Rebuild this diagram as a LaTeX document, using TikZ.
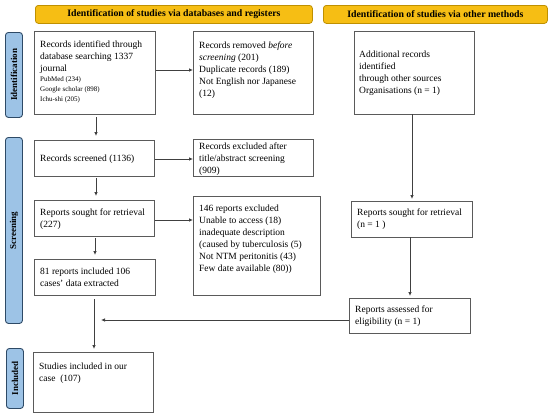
\documentclass[tikz,border=0pt]{standalone}
\usepackage{fontspec}
\setmainfont{Liberation Serif}
\usetikzlibrary{arrows.meta}
\definecolor{gold}{HTML}{F6BE14}
\definecolor{goldedge}{HTML}{BF9000}
\definecolor{sideblue}{HTML}{9DC3E6}
\definecolor{sideedge}{HTML}{2E4A66}
\definecolor{boxedge}{HTML}{5A5A5A}
\definecolor{arr}{HTML}{404040}
\tikzset{
  box/.style={draw=boxedge, line width=1pt, rectangle, inner sep=0pt, anchor=north west},
  hdr/.style={draw=goldedge, fill=gold, line width=0.8pt, rounded corners=3pt, inner sep=0pt, anchor=north west, font=\fontsize{9.8}{11}\selectfont\bfseries},
  side/.style={draw=sideedge, fill=sideblue, line width=0.9pt, rounded corners=3pt, inner sep=0pt, anchor=north west},
  sidetxt/.style={rotate=90, font=\fontsize{9}{10}\selectfont\bfseries},
  txt/.style={anchor=north west, inner sep=0pt, align=left, font=\fontsize{9.5}{12}\selectfont},
  conn/.style={draw=arr, line width=0.8pt, -{Latex[length=4pt,width=3.6pt]}},
}
\begin{document}
\begin{tikzpicture}[x=1pt,y=-1pt]
\useasboundingbox (0,0) rectangle (550,418);
% headers
\node[hdr, minimum width=277pt, minimum height=18pt] (h1) at (35,5) {Identification of studies via databases and registers};
\node[hdr, minimum width=224pt, minimum height=18pt] (h2) at (323,5) {Identification of studies via other methods};
% side bars
\node[side, minimum width=17pt, minimum height=85pt] (s1) at (5,32) {};
\node[sidetxt] at (s1.center) {Identification};
\node[side, minimum width=17pt, minimum height=186pt] (s2) at (5,137) {};
\node[sidetxt] at (s2.center) {Screening};
\node[side, minimum width=17pt, minimum height=60pt] (s3) at (6,348) {};
\node[sidetxt] at (s3.center) {Included};
% boxes
\node[box, minimum width=121pt, minimum height=83pt] (b1) at (34,31) {};
\node[txt] (t1) at (40,40.5) {Records identified through\\database searching 1337\\journal\\[-2pt]{\fontsize{7}{9.5}\selectfont PubMed (234)}\\[-2pt]{\fontsize{7}{9.5}\selectfont Google scholar (898)}\\[-2pt]{\fontsize{7}{9.5}\selectfont Ichu-shi (205)}};
\node[box, minimum width=120pt, minimum height=83pt] (b2) at (193,31) {};
\node[txt] (t2) at (199,42) {Records removed \textit{before}\\\textit{screening} (201)\\Duplicate records (189)\\Not English nor Japanese\\(12)};
\node[box, minimum width=120pt, minimum height=83pt] (b3) at (354,31) {};
\node[txt] (t3) at (359,50.5) {Additional records\\identified\\through other sources\\Organisations (n = 1)};
\node[box, minimum width=120pt, minimum height=36pt] (b4) at (34,140) {};
\node[txt] (t4) at (40,154.5) {Records screened (1136)};
\node[box, minimum width=120pt, minimum height=37pt] (b5) at (193,139) {};
\node[txt] (t5) at (199,142.5) {Records excluded after\\title/abstract screening\\(909)};
\node[box, minimum width=120pt, minimum height=36pt] (b6) at (34,200) {};
\node[txt] (t6) at (40,208.5) {Reports sought for retrieval\\(227)};
\node[box, minimum width=127pt, minimum height=99pt] (b7) at (193,196) {};
\node[txt] (t7) at (199,204.5) {146 reports excluded\\Unable to access (18)\\inadequate description\\(caused by tuberculosis (5)\\Not NTM peritonitis (43)\\Few date available (80))};
\node[box, minimum width=121pt, minimum height=36pt] (b8) at (34,259) {};
\node[txt] (t8) at (40,267.5) {81 reports included 106\\cases' data extracted};
\node[box, minimum width=121pt, minimum height=36pt] (b9) at (351,201) {};
\node[txt] (t9) at (357,208.5) {Reports sought for retrieval\\(n = 1 )};
\node[box, minimum width=121pt, minimum height=35pt] (b10) at (349,298) {};
\node[txt] (t10) at (355,305.5) {Reports assessed for\\eligibility (n = 1)};
\node[box, minimum width=120pt, minimum height=60pt] (b11) at (33,352) {};
\node[txt] (t11) at (39,362.5) {Studies included in our\\case~ (107)};
% connectors
\draw[conn] (b1.east |- 0,70) -- (b2.west |- 0,70);
\draw[conn] (96,117) -- (96,136);
\draw[conn] (b4.east |- 0,159) -- (b5.west |- 0,159);
\draw[conn] (96,178) -- (96,196);
\draw[conn] (b6.east |- 0,220) -- (b7.west |- 0,220);
\draw[conn] (95,238) -- (95,255);
\draw[conn] (412,114) -- (412,199);
\draw[conn] (410,237) -- (410,296);
\coordinate (m) at (101,320);
\draw[conn] (b10.west |- 0,320) -- (m);
\draw[conn] (94,299) -- (94,349);
\end{tikzpicture}
\end{document}
